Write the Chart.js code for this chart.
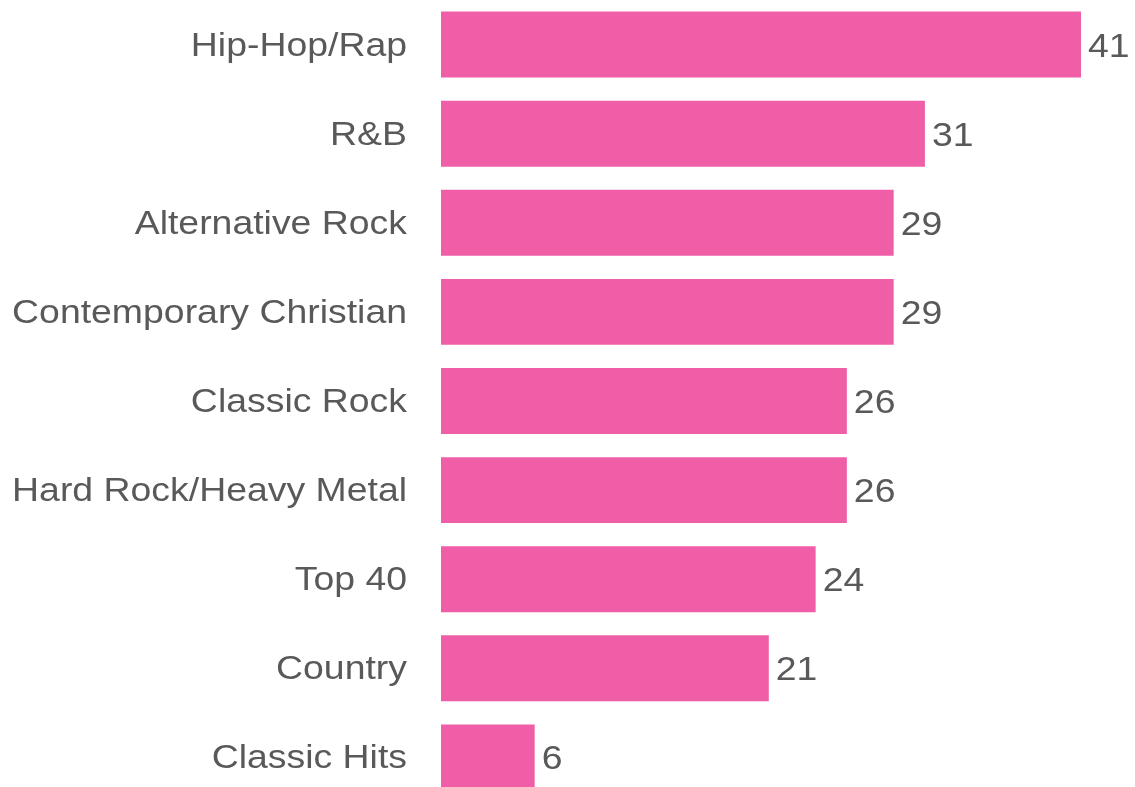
<!DOCTYPE html>
<html>
<head>
<meta charset="utf-8">
<script src="https://cdn.jsdelivr.net/npm/chart.js@4/dist/chart.umd.min.js"></script>
<style>
    html, body { margin: 0; padding: 0; background: #fff; overflow: hidden; }
    #genreChart { display: block; }
</style>
</head>
<body>
<canvas id="genreChart" width="1135" height="802"></canvas>
<script>
// Gêneros e contagens
const genres = [
    'Hip-Hop/Rap',
    'R&B',
    'Alternative Rock',
    'Contemporary Christian',
    'Classic Rock',
    'Hard Rock/Heavy Metal',
    'Top 40',
    'Country',
    'Classic Hits'
];
const counts = [41, 31, 29, 29, 26, 26, 24, 21, 6];

const barColor = '#ef5ea6';
const textColor = '#595959';
const fontFamily = '"Liberation Sans", Arial, sans-serif';
const fontSize = 34;
const stretchX = 1.1;   // texto levemente mais largo

// Escreve texto esticado na horizontal a partir de (x, y)
function drawStretched(ctx, text, x, y, align) {
    ctx.save();
    ctx.translate(x, y);
    ctx.scale(stretchX, 1);
    ctx.textAlign = align;
    ctx.fillText(text, 0, 0);
    ctx.restore();
}

// Nomes das categorias e valores na ponta das barras
const barLabels = {
    id: 'barLabels',
    afterDatasetsDraw(chart) {
        const ctx = chart.ctx;
        const yScale = chart.scales.y;
        const meta = chart.getDatasetMeta(0);
        ctx.save();
        ctx.fillStyle = textColor;
        ctx.font = fontSize + 'px ' + fontFamily;
        ctx.textBaseline = 'alphabetic';
        genres.forEach((name, i) => {
            const y = yScale.getPixelForTick(i) + 11;
            drawStretched(ctx, name, yScale.right - 34, y, 'right');
        });
        meta.data.forEach((bar, i) => {
            drawStretched(ctx, String(counts[i]), bar.x + 7, bar.y + 12, 'left');
        });
        ctx.restore();
    }
};

const ctx = document.getElementById('genreChart').getContext('2d');
const genreChart = new Chart(ctx, {
    type: 'bar',
    data: {
        labels: genres,
        datasets: [{
            data: counts,
            backgroundColor: barColor,
            borderWidth: 0,
            barPercentage: 0.74,
            categoryPercentage: 1
        }]
    },
    options: {
        indexAxis: 'y',
        responsive: false,
        animation: false,
        layout: { padding: 0 },
        plugins: {
            legend: { display: false },
            tooltip: { enabled: false }
        },
        scales: {
            x: {
                display: false,
                min: 0,
                max: 44.46
            },
            y: {
                // largura fixa e sem folga extra em cima/embaixo
                afterFit(scale) {
                    scale.width = 441;
                    scale.paddingTop = 0;
                    scale.paddingBottom = 0;
                },
                border: { display: false },
                grid: { display: false, drawTicks: false },
                ticks: { display: false }
            }
        }
    },
    plugins: [barLabels]
});
</script>
</body>
</html>
